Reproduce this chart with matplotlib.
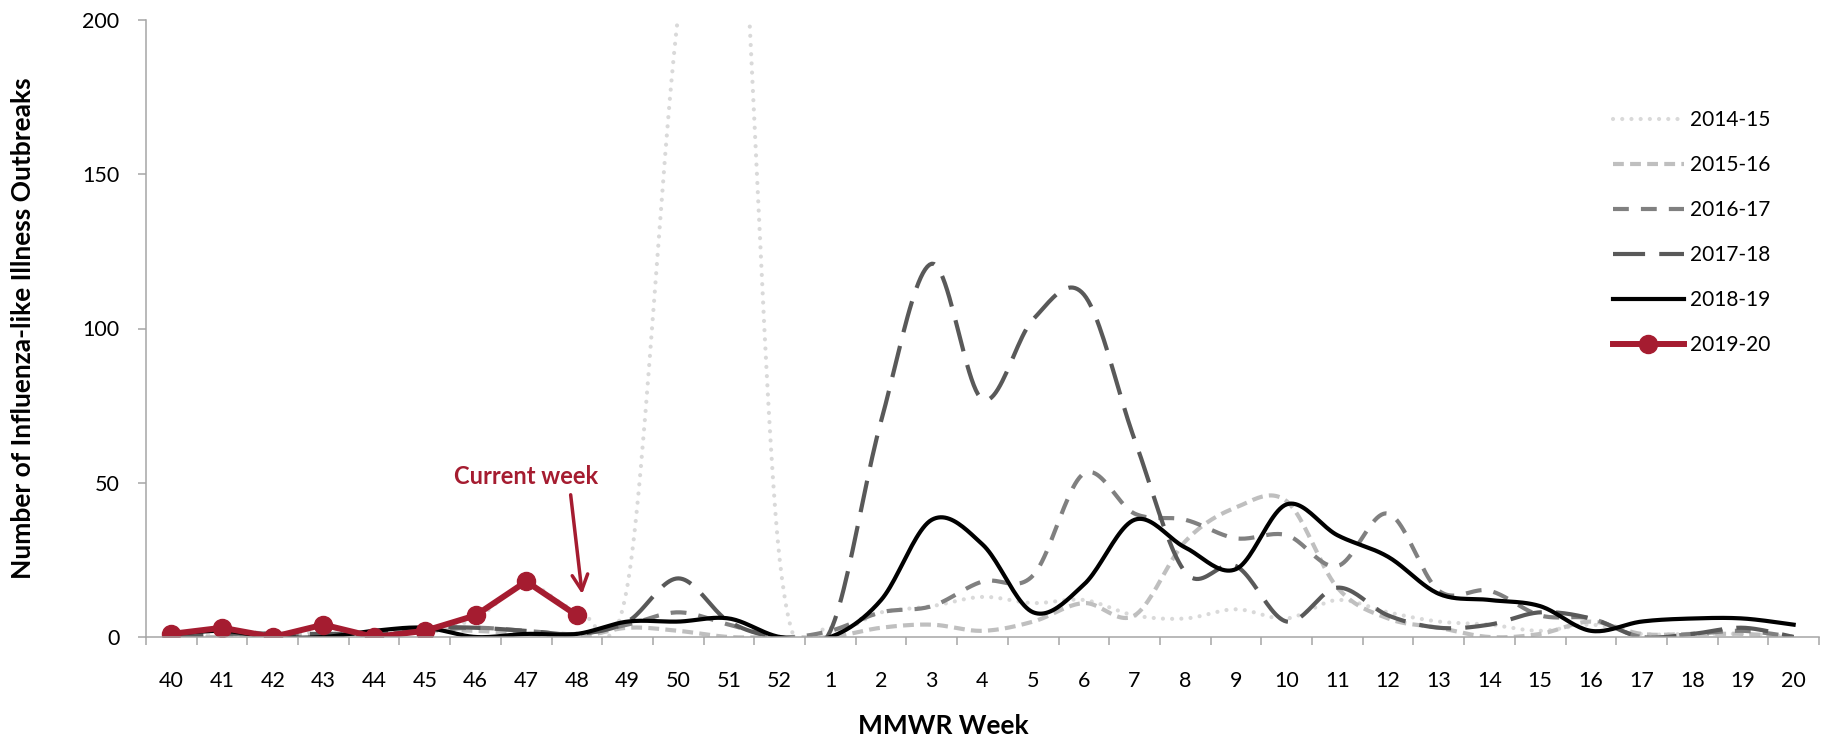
from matplotlib import pyplot as plt
import numpy as np

# COLORS
RED = "#A51C30"
AXIS_GRAY = "#A6A6A6"

WEEKS = [40, 41, 42, 43, 44, 45, 46, 47, 48, 49, 50, 51, 52,
         1, 2, 3, 4, 5, 6, 7, 8, 9, 10, 11, 12, 13, 14, 15, 16, 17, 18, 19, 20]

S_2014_15 = [0, 1, 0, 2, 1, 2, 6, 17, 9, 17, 202, 295, 25,
             3, 8, 10, 13, 11, 12, 7, 6, 9, 6, 12, 8, 5, 4, 2, 4, 1, 1, 1, 0]
S_2015_16 = [0, 0, 0, 1, 1, 2, 2, 1, 0, 3, 2, 0, 0,
             0, 3, 4, 2, 5, 11, 7, 31, 42, 44, 16, 6, 3, 0, 1, 5, 1, 1, 1, 0]
S_2016_17 = [1, 2, 1, 1, 1, 2, 3, 2, 1, 4, 8, 4, 0,
             2, 8, 10, 18, 20, 53, 40, 38, 32, 33, 23, 40, 15, 15, 7, 6, 0, 1, 2, 0]
S_2017_18 = [0, 1, 1, 1, 1, 3, 3, 2, 1, 5, 19, 5, 0,
             2, 70, 121, 77, 103, 111, 64, 21, 23, 5, 16, 7, 3, 4, 8, 6, 0, 1, 3, 0]
S_2018_19 = [1, 2, 0, 0, 2, 3, 0, 1, 1, 5, 5, 6, 0,
             0, 12, 38, 30, 8, 17, 38, 29, 22, 43, 33, 26, 14, 12, 10, 2, 5, 6, 6, 4]
S_2019_20 = [1, 3, 0, 4, 0, 2, 7, 18, 7]

Y_TICKS = [0, 50, 100, 150, 200]


def smooth(values, steps=24):
    # Excel style smoothed line: cubic bezier with control points at 1/6 of neighbours
    y = np.asarray(values, dtype=float)
    x = np.arange(len(y), dtype=float)
    n = len(y)
    xs, ys = [], []
    t = np.linspace(0, 1, steps)
    for i in range(n - 1):
        ip = max(i - 1, 0)
        inx = min(i + 2, n - 1)
        p0 = np.array([x[i], y[i]])
        p3 = np.array([x[i + 1], y[i + 1]])
        c1 = p0 + (p3 - np.array([x[ip], y[ip]])) / 6
        c2 = p3 - (np.array([x[inx], y[inx]]) - p0) / 6
        pts = ((1 - t) ** 3)[:, None] * p0 + (3 * (1 - t) ** 2 * t)[:, None] * c1 \
            + (3 * (1 - t) * t ** 2)[:, None] * c2 + (t ** 3)[:, None] * p3
        xs.extend(pts[:, 0])
        ys.extend(pts[:, 1])
    return np.array(xs), np.array(ys)


def main():
    plt.rcParams["font.family"] = ["Lato", "DejaVu Sans"]
    fig = plt.figure(figsize=(18.3, 7.38), dpi=100)
    ax = fig.add_axes([146 / 1830, 101 / 738, 1673 / 1830, 617 / 738])

    series = [
        ("2014-15", S_2014_15, dict(color="#D9D9D9", lw=3, dashes=(0.01, 2.2), dash_capstyle="round")),
        ("2015-16", S_2015_16, dict(color="#BFBFBF", lw=3, dashes=(2.6, 1.5))),
        ("2016-17", S_2016_17, dict(color="#808080", lw=3, dashes=(3.8, 2.9))),
        ("2017-18", S_2017_18, dict(color="#595959", lw=3, dashes=(7.7, 3.4))),
        ("2018-19", S_2018_19, dict(color="black", lw=3)),
    ]
    for label, vals, style in series:
        sx, sy = smooth(vals)
        ax.plot(sx, sy, label=label, **style)

    ax.plot(np.arange(len(S_2019_20)), S_2019_20, color=RED, lw=4.3,
            marker="o", markersize=13, label="2019-20")

    ax.annotate("", xy=(8.11, 13), xytext=(7.87, 47),
                arrowprops=dict(arrowstyle="->", color=RED, lw=2.5, mutation_scale=28))
    ax.text(7.0, 52, "Current week", color=RED, fontsize=17, fontweight="bold",
            ha="center", va="center")

    ax.set_xlim(-0.5, len(WEEKS) - 0.5)
    ax.set_ylim(0, 200)
    ax.set_xticks(np.arange(len(WEEKS)))
    ax.set_xticklabels([str(w) for w in WEEKS])
    ax.set_xticks(np.arange(len(WEEKS) + 1) - 0.5, minor=True)
    ax.set_yticks(Y_TICKS)
    ax.tick_params(axis="x", which="major", length=0, pad=24.5, labelsize=15.5)
    ax.tick_params(axis="x", which="minor", length=6, width=1.1, color=AXIS_GRAY)
    ax.tick_params(axis="y", length=6, width=1.1, color=AXIS_GRAY, pad=13, labelsize=15.5)

    for side in ["top", "right"]:
        ax.spines[side].set_visible(False)
    for side in ["left", "bottom"]:
        ax.spines[side].set_color(AXIS_GRAY)
        ax.spines[side].set_linewidth(1.1)

    fig.text(943 / 1830, 1 - 726 / 738, "MMWR Week", fontsize=19, fontweight="bold",
             ha="center", va="center")
    fig.text(23 / 1830, 1 - 328 / 738, "Number of Influenza-like Illness Outbreaks",
             fontsize=19, fontweight="bold", rotation=90, ha="center", va="center")

    ax.legend(loc="upper left", bbox_to_anchor=(1613 / 1830, 1 - 110 / 738),
              bbox_transform=fig.transFigure, frameon=False, fontsize=15,
              handlelength=3.4, handletextpad=0.3, labelspacing=1.2,
              borderpad=0, borderaxespad=0)

    fig.savefig("out.png", dpi=100)


if __name__ == "__main__":
    main()
